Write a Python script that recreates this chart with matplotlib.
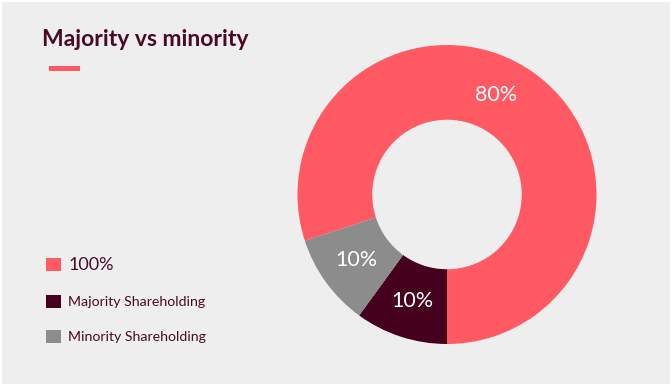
import numpy as np
import matplotlib
matplotlib.use("Agg")
import matplotlib.pyplot as plt
from matplotlib.patches import Rectangle

# data
labels = ["100%", "Majority Shareholding", "Minority Shareholding"]
values = [80, 10, 10]
colors = ["#ff5a64", "#44001c", "#8c8c8c"]

title = "Majority vs minority"
bg = "#eeeeee"
text_color = "#4a0a26"

plt.rcParams['font.family'] = ['Lato', 'DejaVu Sans']

W, H = 672, 386
fig = plt.figure(figsize=(W / 100, H / 100), dpi=100, facecolor="white")
fig.patches.append(Rectangle((2 / W, 2 / H), 1 - 4 / W, 1 - 4 / H, transform=fig.transFigure,
                             facecolor=bg, edgecolor="none", zorder=-1))

# donut
cx, cy, r = 447, 386 - 194.5, 149.5
ax = fig.add_axes([(cx - r) / W, (cy - r) / H, 2 * r / W, 2 * r / H])
wedges, _, pcts = ax.pie(values, colors=colors, startangle=198, counterclock=False,
                         radius=1, autopct="%d%%", pctdistance=0.75,
                         wedgeprops=dict(width=0.5, linewidth=0),
                         textprops=dict(color="white", fontsize=15.5))
ax.set_xlim(-1, 1)
ax.set_ylim(-1, 1)
ax.set_aspect("equal")
ax.axis("off")
# the big label sits a bit higher than the slice middle
a = np.deg2rad(63.6)
pcts[0].set_position((0.74 * np.cos(a), 0.74 * np.sin(a)))

# title + accent bar
fig.text(42 / W, 1 - 46 / H, title, fontsize=16.5, fontweight="bold", color=text_color,
         ha="left", va="baseline")
fig.patches.append(Rectangle((49 / W, 1 - 70.5 / H), 31 / W, 4.5 / H, transform=fig.transFigure,
                             facecolor=colors[0], edgecolor="none"))

# legend
leg = fig.legend(wedges, labels, loc="upper left", bbox_to_anchor=(40 / W, 1 - 251 / H),
                 frameon=False, fontsize=10.2, handlelength=1.05, handleheight=1.05,
                 handletextpad=0.55, labelspacing=1.55, borderaxespad=0)
for t in leg.get_texts():
    t.set_color(text_color)
leg.get_texts()[0].set_fontsize(13)

fig.savefig("out.png", dpi=100, facecolor=fig.get_facecolor())
